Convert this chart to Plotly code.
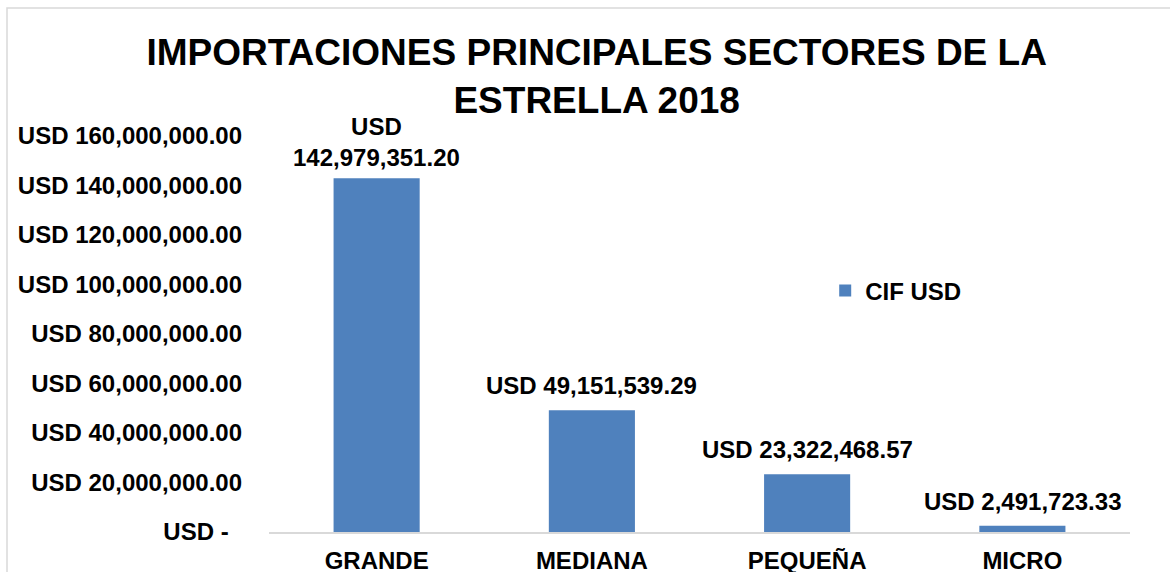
import plotly.graph_objects as go

categories = ["GRANDE", "MEDIANA", "PEQUEÑA", "MICRO"]
cif_usd = [142979351.20, 49151539.29, 23322468.57, 2491723.33]
series_name = "CIF USD"
tick_values = [0, 20e6, 40e6, 60e6, 80e6, 100e6, 120e6, 140e6, 160e6]
tick_labels = ["USD -\u00a0\u00a0", "USD 20,000,000.00", "USD 40,000,000.00", "USD 60,000,000.00",
               "USD 80,000,000.00", "USD 100,000,000.00", "USD 120,000,000.00",
               "USD 140,000,000.00", "USD 160,000,000.00"]
title_text = "IMPORTACIONES PRINCIPALES SECTORES DE LA<br>ESTRELLA 2018"

def fmt(v):
    return "USD " + f"{v:,.2f}"

labels = [fmt(v) for v in cif_usd]
# the tallest label wraps in the original
labels[0] = labels[0].replace("USD ", "USD<br>", 1)

FONT = "Liberation Sans, Arial, sans-serif"
FS = 24

fig = go.Figure()
fig.add_trace(go.Bar(
    x=categories, y=cif_usd, name=series_name,
    marker=dict(color="#4F81BD", line=dict(width=0)),
    width=0.4, cliponaxis=False,
    showlegend=True,
))

for cat, val, lab in zip(categories, cif_usd, labels):
    fig.add_annotation(x=cat, y=val, text=lab, showarrow=False,
                       xanchor="center", yanchor="bottom",
                       yshift=(5 if "<br>" in lab else 9),
                       font=dict(family=FONT, size=FS, color="#000000", weight="bold"))

fig.update_layout(
    width=1170, height=572,
    margin=dict(l=269, r=40, t=136, b=40, autoexpand=False),
    paper_bgcolor="white", plot_bgcolor="white",
    font=dict(family=FONT, size=FS, color="#000000", weight="bold"),
    title=dict(text=title_text, x=0.51, xanchor="center", y=0.886, yanchor="top",
               font=dict(family=FONT, size=37, color="#000000", weight="bold")),
    showlegend=True,
    legend=dict(x=0.646, y=0.609, xanchor="left", yanchor="middle",
                bgcolor="rgba(0,0,0,0)",
                font=dict(family=FONT, size=FS, color="#000000", weight="bold"),
                itemwidth=30),
    bargap=0.6,
)

fig.update_xaxes(showline=True, linecolor="#D9D9D9", linewidth=2, showgrid=False,
                 ticks="", ticklabelstandoff=6, automargin=False,
                 tickfont=dict(family=FONT, size=FS, color="#000000", weight="bold"))
fig.update_yaxes(range=[0, 160e6], tickvals=tick_values, ticktext=tick_labels,
                 showgrid=False, showline=False, zeroline=False, ticks="",
                 ticklabelstandoff=26, automargin=False,
                 tickfont=dict(family=FONT, size=FS, color="#000000", weight="bold"))

fig.add_shape(type="rect", xref="paper", yref="paper",
              x0=(7 - 269) / 861, x1=(1180 - 269) / 861,
              y0=(532 - 590) / 396, y1=(532 - 8) / 396,
              line=dict(color="#D9D9D9", width=1.5), fillcolor="rgba(0,0,0,0)", layer="below")

fig.write_html("out.html", config={"displayModeBar": False},
               post_script="document.body.style.margin='0';")
